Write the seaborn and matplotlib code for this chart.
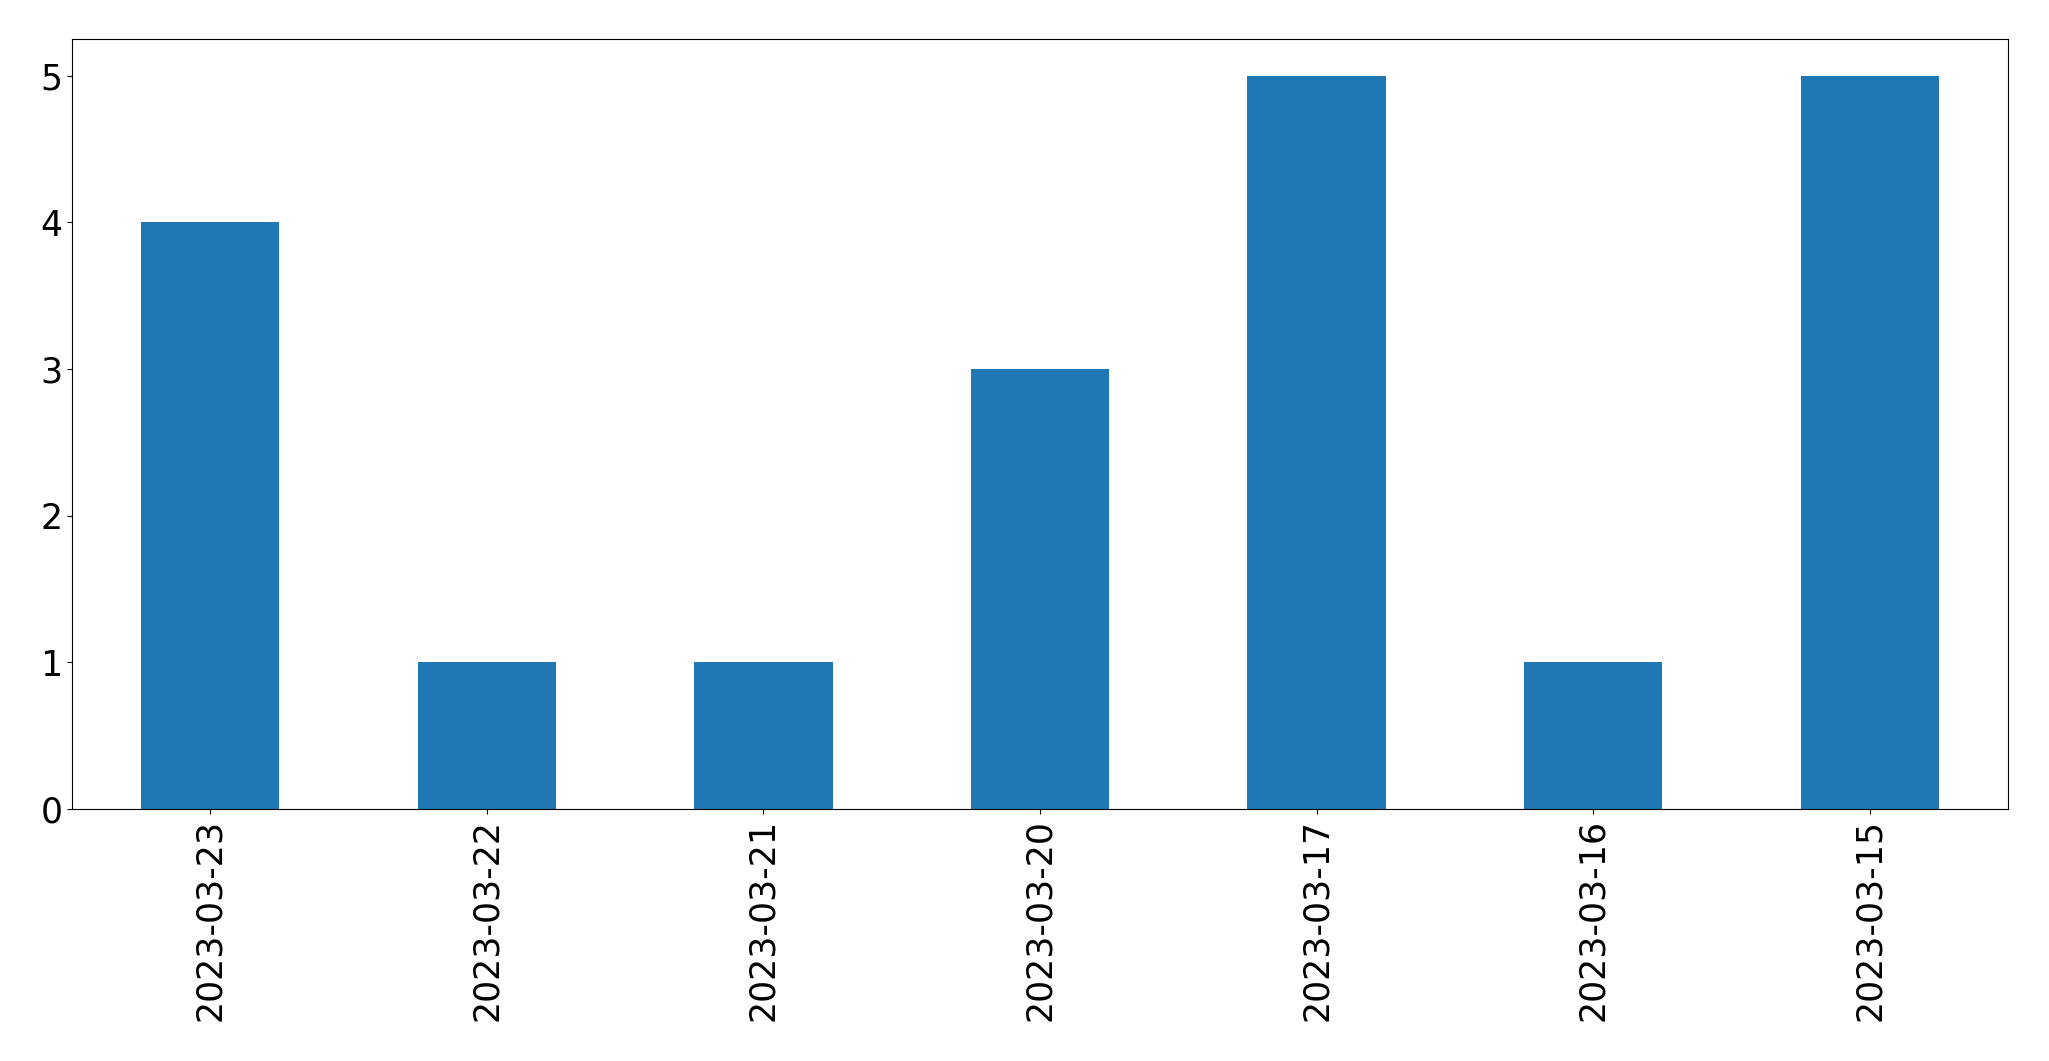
import numpy as np
import pandas as pd
import matplotlib
matplotlib.use("Agg")
import matplotlib.pyplot as plt
import seaborn as sns

# data
dates = ["2023-03-23", "2023-03-22", "2023-03-21", "2023-03-20",
         "2023-03-17", "2023-03-16", "2023-03-15"]
counts = [4, 1, 1, 3, 5, 1, 5]

df = pd.DataFrame({"date": dates, "count": counts})

fig, ax = plt.subplots(figsize=(20.49, 10.61), dpi=100)
fig.subplots_adjust(left=72 / 2049, right=2008 / 2049, top=1 - 39 / 1061, bottom=1 - 809 / 1061)

sns.barplot(data=df, x="date", y="count", color="#1f77b4", saturation=1,
            width=0.5, order=dates, ax=ax)

ax.set_xlim(-0.5, len(dates) - 0.5)
ax.set_ylim(0, 5.25)
ax.set_xlabel("")
ax.set_ylabel("")
ax.tick_params(axis="both", labelsize=25)
ax.tick_params(axis="x", labelrotation=90)

fig.savefig("out.png", dpi=100)
